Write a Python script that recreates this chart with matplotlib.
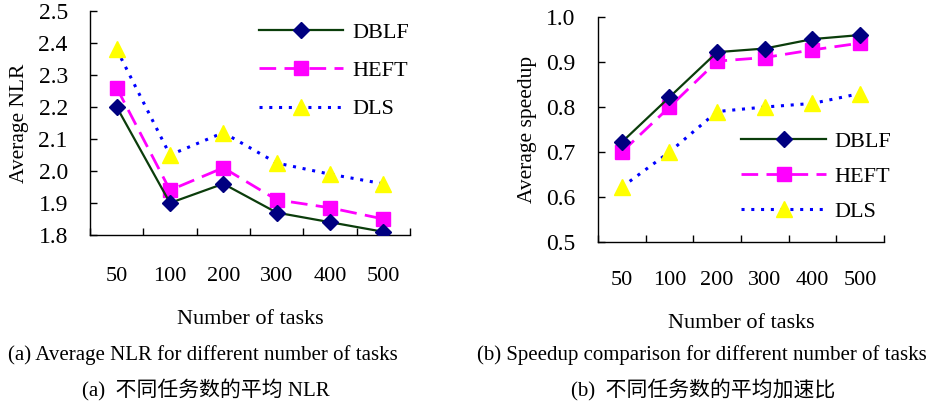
import numpy as np
import matplotlib
matplotlib.use('Agg')
import matplotlib.pyplot as plt

plt.rcParams['font.family'] = ['Liberation Serif', 'Noto Sans CJK SC']

tasks = ['50', '100', '200', '300', '400', '500']

nlr_dblf = [2.20, 1.90, 1.96, 1.87, 1.84, 1.81]
nlr_heft = [2.26, 1.94, 2.01, 1.91, 1.885, 1.85]
nlr_dls = [2.38, 2.05, 2.12, 2.025, 1.99, 1.96]

sp_dblf = [0.722, 0.822, 0.922, 0.930, 0.951, 0.960]
sp_heft = [0.700, 0.800, 0.902, 0.910, 0.927, 0.942]
sp_dls = [0.622, 0.700, 0.790, 0.800, 0.808, 0.830]

nlr_ticks = [1.8, 1.9, 2.0, 2.1, 2.2, 2.3, 2.4, 2.5]
sp_ticks = [0.5, 0.6, 0.7, 0.8, 0.9, 1.0]


def draw(ax, dblf, heft, dls, xpad):
    x = np.arange(len(tasks))
    ax.plot(x, dblf, color='#0b3d0b', lw=1.6, marker='D', ms=8.5,
            mfc='#000080', mec='#000080', label='DBLF', zorder=3)
    ax.plot(x, heft, color='#ff00ff', lw=2.0, ls=(0, (6, 3)), marker='s', ms=10.5,
            mfc='#ff00ff', mec='#ff00ff', label='HEFT', zorder=2)
    ax.plot(x, dls, color='#0000ff', lw=2.2, ls=(0, (1, 2.2)), marker='^', ms=11,
            mfc='#ffff00', mec='#ffff00', label='DLS', zorder=1)
    ax.set_xlim(-0.5, 5.5)
    ax.set_xticks(np.arange(-0.5, 6.0, 1.0))
    ax.set_xticklabels([])
    ax.set_xticks(x, minor=True)
    ax.set_xticklabels(tasks, minor=True)
    ax.tick_params(axis='x', which='major', direction='in', length=5, width=1)
    ax.tick_params(axis='x', which='minor', length=0, pad=xpad, labelsize=16)
    ax.tick_params(axis='y', direction='in', length=5, width=1, labelsize=17, pad=16)
    for s in ['top', 'right']:
        ax.spines[s].set_visible(False)
    ax.spines['left'].set_linewidth(1)
    ax.spines['bottom'].set_linewidth(1)
    ax.set_xlabel('Number of tasks', fontsize=16, labelpad=17)


fig = plt.figure(figsize=(9.3, 4.01), dpi=100)

ax1 = fig.add_axes([0.0968, 0.414, 0.344, 0.5586])
draw(ax1, nlr_dblf, nlr_heft, nlr_dls, 23)
ax1.set_ylim(1.8, 2.5)
ax1.set_yticks(nlr_ticks)
ax1.set_yticklabels(['%.1f' % v for v in nlr_ticks])
ax1.set_ylabel('Average NLR', fontsize=15.5, labelpad=7)
ax1.legend(loc='upper left', bbox_to_anchor=(0.5, 0.99), frameon=True,
           facecolor='white', edgecolor='white', framealpha=1, fontsize=16,
           handlelength=3.8, labelspacing=0.8, handletextpad=0.4, borderaxespad=0)

ax2 = fig.add_axes([0.643, 0.3965, 0.3075, 0.561])
draw(ax2, sp_dblf, sp_heft, sp_dls, 21)
ax2.set_ylim(0.5, 1.0)
ax2.set_yticks(sp_ticks)
ax2.set_yticklabels(['%.1f' % v for v in sp_ticks])
ax2.set_ylabel('Average speedup', fontsize=15.5, labelpad=7)
ax2.legend(loc='upper left', bbox_to_anchor=(0.47, 0.53), frameon=True,
           facecolor='white', edgecolor='white', framealpha=1, fontsize=16,
           handlelength=3.8, labelspacing=0.65, handletextpad=0.4, borderaxespad=0)

fig.text(0.218, 0.115, '(a) Average NLR for different number of tasks',
         ha='center', va='center', fontsize=15)
fig.text(0.2215, 0.027, '(a)  不同任务数的平均 NLR',
         ha='center', va='center', fontsize=15)
fig.text(0.755, 0.115, '(b) Speedup comparison for different number of tasks',
         ha='center', va='center', fontsize=15)
fig.text(0.756, 0.027, '(b)  不同任务数的平均加速比',
         ha='center', va='center', fontsize=15)

plt.savefig('out.png', dpi=100)
plt.close()
